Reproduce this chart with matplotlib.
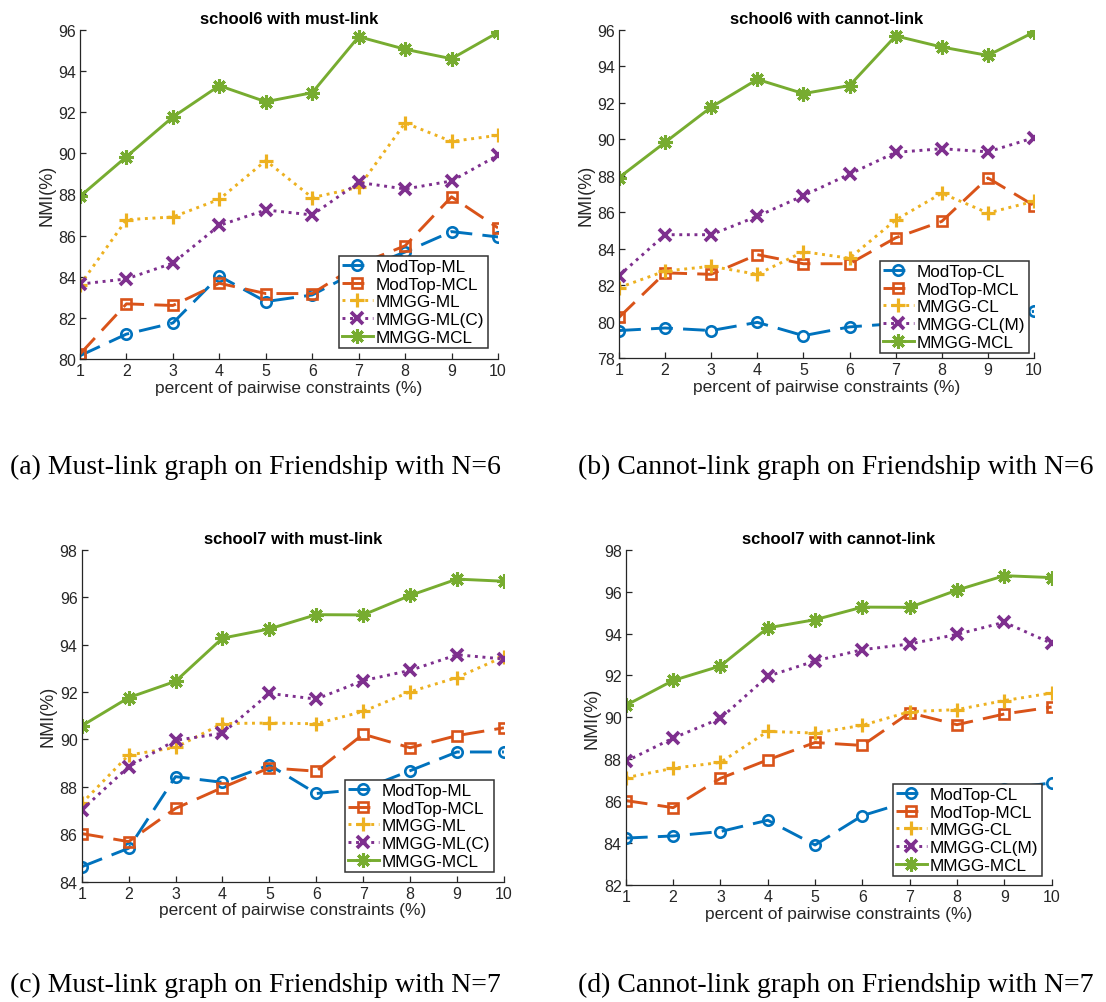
import numpy as np
import matplotlib.pyplot as plt

W, H = 1106, 1003

# x axis: percent of pairwise constraints
pct = np.arange(1, 11)

# school6 (N=6)
s6_modtop_ml = [80.16, 81.21, 81.75, 84.03, 82.79, 83.11, 84.3, 85.2, 86.19, 85.93]
s6_modtop_mcl = [80.24, 82.68, 82.60, 83.68, 83.18, 83.18, 84.60, 85.50, 87.88, 86.37]
s6_mmgg_ml = [83.60, 86.77, 86.90, 87.76, 89.64, 87.84, 88.34, 91.47, 90.57, 90.87]
s6_mmgg_mlc = [83.64, 83.89, 84.66, 86.49, 87.24, 87.00, 88.58, 88.26, 88.65, 89.90]
s6_mmgg_mcl = [87.90, 89.83, 91.76, 93.28, 92.50, 92.94, 95.66, 95.05, 94.59, 95.87]

s6_modtop_cl = [79.52, 79.66, 79.52, 79.97, 79.24, 79.72, 79.9, 80.1, 80.3, 80.57]
s6_mmgg_cl = [81.87, 82.78, 83.04, 82.60, 83.84, 83.48, 85.58, 87.04, 85.96, 86.60]
s6_mmgg_clm = [82.53, 84.77, 84.77, 85.78, 86.91, 88.09, 89.28, 89.48, 89.31, 90.08]

# school7 (N=7)
s7_modtop_ml = [84.63, 85.41, 88.43, 88.19, 88.92, 87.72, 87.9, 88.68, 89.47, 89.47]
s7_modtop_mcl = [86.03, 85.69, 87.09, 87.97, 88.80, 88.66, 90.22, 89.65, 90.16, 90.49]
s7_mmgg_ml = [87.30, 89.34, 89.66, 90.67, 90.69, 90.66, 91.18, 92.01, 92.61, 93.49]
s7_mmgg_mlc = [87.02, 88.85, 89.96, 90.26, 91.94, 91.70, 92.48, 92.91, 93.57, 93.39]
s7_mmgg_mcl = [90.57, 91.76, 92.45, 94.27, 94.66, 95.26, 95.25, 96.07, 96.76, 96.67]

s7_modtop_cl = [84.24, 84.34, 84.55, 85.09, 83.91, 85.31, 86.0, 86.3, 86.6, 86.87]
s7_mmgg_cl = [87.12, 87.57, 87.85, 89.33, 89.25, 89.62, 90.27, 90.37, 90.80, 91.16]
s7_mmgg_clm = [87.90, 89.01, 89.95, 91.96, 92.69, 93.23, 93.50, 93.96, 94.54, 93.53]

panels = [
    dict(title='school6 with must-link', box=(80, 498, 30.7, 360), ylim=(80, 96),
         series=[s6_modtop_ml, s6_modtop_mcl, s6_mmgg_ml, s6_mmgg_mlc, s6_mmgg_mcl],
         labels=['ModTop-ML', 'ModTop-MCL', 'MMGG-ML', 'MMGG-ML(C)', 'MMGG-MCL'],
         legend=(488, 349),
         caption='(a) Must-link graph on Friendship with N=6', cap=(10, 474)),
    dict(title='school6 with cannot-link', box=(619, 1034, 30.7, 359.3), ylim=(78, 96),
         series=[s6_modtop_cl, s6_modtop_mcl, s6_mmgg_cl, s6_mmgg_clm, s6_mmgg_mcl],
         labels=['ModTop-CL', 'ModTop-MCL', 'MMGG-CL', 'MMGG-CL(M)', 'MMGG-MCL'],
         legend=(1029, 354),
         caption='(b) Cannot-link graph on Friendship with N=6', cap=(578, 474)),
    dict(title='school7 with must-link', box=(81.7, 503.9, 550.7, 882.7), ylim=(84, 98),
         series=[s7_modtop_ml, s7_modtop_mcl, s7_mmgg_ml, s7_mmgg_mlc, s7_mmgg_mcl],
         labels=['ModTop-ML', 'ModTop-MCL', 'MMGG-ML', 'MMGG-ML(C)', 'MMGG-MCL'],
         legend=(494, 873),
         caption='(c) Must-link graph on Friendship with N=7', cap=(10, 992)),
    dict(title='school7 with cannot-link', box=(625.8, 1051.6, 550.7, 886), ylim=(82, 98),
         series=[s7_modtop_cl, s7_modtop_mcl, s7_mmgg_cl, s7_mmgg_clm, s7_mmgg_mcl],
         labels=['ModTop-CL', 'ModTop-MCL', 'MMGG-CL', 'MMGG-CL(M)', 'MMGG-MCL'],
         legend=(1042, 877),
         caption='(d) Cannot-link graph on Friendship with N=7', cap=(578, 992)),
]

# matlab default colour order and line/marker styles per method
styles = [
    dict(color='#0072BD', marker='o', dashes=(7.5, 3.5), ms=7.5, mew=1.9, mfc='none'),
    dict(color='#D95319', marker='s', dashes=(7.5, 3.5), ms=7, mew=1.9, mfc='none'),
    dict(color='#EDB120', marker='+', dashes=(1, 1.6), ms=10, mew=2.3, mfc='none'),
    dict(color='#7E2F8E', marker='x', dashes=(1, 1.6), ms=8, mew=2.7, mfc='none'),
    dict(color='#77AC30', marker=(8, 2, 0), dashes=None, ms=10.5, mew=2.2, mfc='none'),
]

plt.rcParams['font.family'] = ['Liberation Sans', 'DejaVu Sans']
axis_grey = '#262626'

fig = plt.figure(figsize=(W / 100, H / 100), dpi=100)

for p in panels:
    l, r, t, b = p['box']
    ax = fig.add_axes([l / W, 1 - b / H, (r - l) / W, (b - t) / H])
    for vals, lab, st in zip(p['series'], p['labels'], styles):
        line, = ax.plot(pct, vals, color=st['color'], lw=2.1, marker=st['marker'],
                        ms=st['ms'], mew=st['mew'], mfc=st['mfc'], label=lab)
        if st['dashes'] is not None:
            line.set_dashes(st['dashes'])
    ax.set_xlim(1, 10)
    ax.set_ylim(*p['ylim'])
    ax.set_xticks(pct)
    ax.set_yticks(np.arange(p['ylim'][0], p['ylim'][1] + 1, 2))
    for side in ('top', 'right'):
        ax.spines[side].set_visible(False)
    for side in ('left', 'bottom'):
        ax.spines[side].set_color(axis_grey)
        ax.spines[side].set_linewidth(0.9)
    ax.tick_params(direction='in', length=4, width=0.9, colors=axis_grey,
                   labelsize=11.5, pad=3)
    ax.set_xlabel('percent of pairwise constraints (%)', fontsize=12.5, color=axis_grey,
                  labelpad=1)
    ax.set_ylabel('NMI(%)', fontsize=13, color=axis_grey, labelpad=2)
    ax.set_title(p['title'], fontsize=12, fontweight='bold', pad=5)

    lx, ly = p['legend']
    leg = ax.legend(loc='lower right', bbox_to_anchor=(lx / W, 1 - ly / H),
                    bbox_transform=fig.transFigure, fontsize=12.3, fancybox=False,
                    framealpha=1, edgecolor='#333333', borderaxespad=0, borderpad=0.2,
                    labelspacing=0.15, handlelength=1.8, handletextpad=0.2)
    leg.get_frame().set_linewidth(1.1)

    cx, cy = p['cap']
    fig.text(cx / W, 1 - cy / H, p['caption'], fontsize=20, family='Liberation Serif',
             ha='left', va='baseline')

fig.savefig('out.png', dpi=100)
